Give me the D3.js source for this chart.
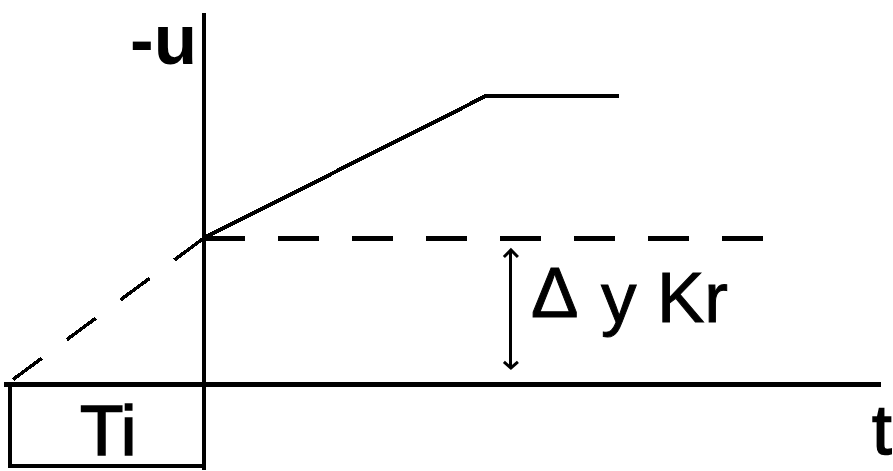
<!DOCTYPE html>
<html>
<head>
<meta charset="utf-8">
<script src="https://cdn.jsdelivr.net/npm/d3@7"></script>
<style>
  html, body { margin: 0; padding: 0; background: #fff; }
  svg { display: block; }
</style>
</head>
<body>
<svg id="chart" width="893" height="471"></svg>
<script>
// ---- data (time in units of Ti, output in units of Δy·Kr) ----
const axisTimeRange = [-1.03, 3.49];     // horizontal axis extent
const axisValueRange = [-0.59, 2.54];    // vertical axis extent
const responseT = [0, 1.4536, 2.139];    // controller output -u (solid)
const responseU = [1, 1.973, 1.973];
const extrapT = [-0.985, 0];             // back-extrapolation (dashed)
const extrapU = [0.03, 1];
const levelT = [0, 2.887];               // proportional jump level (dashed)
const levelU = [1, 1];
const arrowT = 1.582;                    // Δy Kr dimension arrow
const arrowU = [0.918, 0.110];
const tiBoxT = [-1, 0];                  // Ti box
const tiBoxU = [0, -0.562];
const labels = { yAxis: "-u", xAxis: "t", ti: "Ti", delta: ["Δ", "y", "Kr"] };

// ---- scales ----
const x = d3.scaleLinear().domain([-1, 0]).range([10, 204]);
const y = d3.scaleLinear().domain([0, 1]).range([384, 238]);

const svg = d3.select("#chart");
const line = d3.line().x(d => x(d[0])).y(d => y(d[1]));

// axes
svg.append("line")
  .attr("x1", x(0)).attr("x2", x(0))
  .attr("y1", y(axisValueRange[1])).attr("y2", y(axisValueRange[0]))
  .attr("stroke", "#000").attr("stroke-width", 4).attr("shape-rendering", "crispEdges");
svg.append("line")
  .attr("x1", x(axisTimeRange[0])).attr("x2", x(axisTimeRange[1]))
  .attr("y1", y(0)).attr("y2", y(0))
  .attr("stroke", "#000").attr("stroke-width", 5).attr("shape-rendering", "crispEdges");

// Ti box (left & bottom sides; right side is the vertical axis)
svg.append("path")
  .attr("d", line([[tiBoxT[0], tiBoxU[0]], [tiBoxT[0], tiBoxU[1]], [tiBoxT[1], tiBoxU[1]]]))
  .attr("fill", "none").attr("stroke", "#000").attr("stroke-width", 4.5)
  .attr("stroke-linecap", "square").attr("shape-rendering", "crispEdges");

// dashed level line
svg.append("path")
  .attr("d", line(levelT.map((t, i) => [t, levelU[i]])))
  .attr("fill", "none").attr("stroke", "#000").attr("stroke-width", 5)
  .attr("stroke-dasharray", "41,33").attr("shape-rendering", "crispEdges");

// dashed extrapolation
svg.append("path")
  .attr("d", line(extrapT.map((t, i) => [t, extrapU[i]])))
  .attr("fill", "none").attr("stroke", "#000").attr("stroke-width", 3.5)
  .attr("stroke-dasharray", "36,31").attr("shape-rendering", "crispEdges");

// response line (ramp + saturation)
svg.append("path")
  .attr("d", line(responseT.map((t, i) => [t, responseU[i]])))
  .attr("fill", "none").attr("stroke", "#000").attr("stroke-width", 4)
  .attr("shape-rendering", "crispEdges");

// double arrow
const ax = x(arrowT), aTop = y(arrowU[0]), aBot = y(arrowU[1]);
svg.append("line")
  .attr("x1", ax).attr("x2", ax).attr("y1", aTop).attr("y2", aBot)
  .attr("stroke", "#000").attr("stroke-width", 3).attr("shape-rendering", "crispEdges");
svg.append("path")
  .attr("d", `M${ax - 7},${aTop + 7} L${ax},${aTop} L${ax + 7},${aTop + 7}`)
  .attr("fill", "none").attr("stroke", "#000").attr("stroke-width", 3);
svg.append("path")
  .attr("d", `M${ax - 7},${aBot - 6} L${ax},${aBot} L${ax + 7},${aBot - 6}`)
  .attr("fill", "none").attr("stroke", "#000").attr("stroke-width", 3);

// labels
const font = "'Liberation Sans', Arial, sans-serif";
svg.append("text").text(labels.yAxis)
  .attr("x", 130).attr("y", 64)
  .attr("font-family", font).attr("font-weight", "bold").attr("font-size", 71);
svg.append("text").text(labels.ti)
  .attr("x", 80).attr("y", 455)
  .attr("font-family", font).attr("font-size", 71)
  .attr("stroke", "#000").attr("stroke-width", 1.6);
svg.append("text").text(labels.xAxis)
  .attr("x", 872).attr("y", 454)
  .attr("font-family", font).attr("font-size", 71)
  .attr("stroke", "#000").attr("stroke-width", 1.6);
const dt = svg.append("text")
  .attr("font-family", font).attr("font-size", 71)
  .attr("stroke", "#000").attr("stroke-width", 1);
dt.append("tspan").text(labels.delta[0]).attr("x", 531).attr("y", 317);
dt.append("tspan").text(labels.delta[1]).attr("x", 601).attr("y", 322);
dt.append("tspan").text(labels.delta[2]).attr("x", 657).attr("y", 322);
</script>
</body>
</html>
